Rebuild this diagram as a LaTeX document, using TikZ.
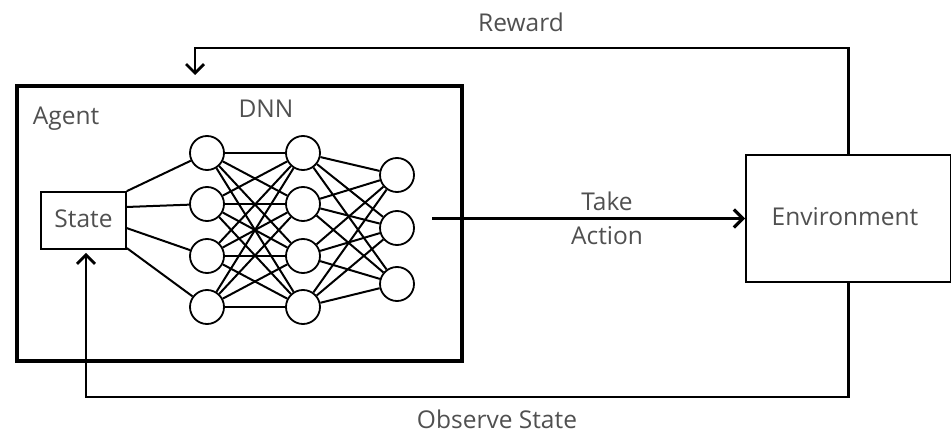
\documentclass[tikz,border=0pt]{standalone}
\usepackage{fontspec}
\setmainfont{Open Sans}
\usetikzlibrary{arrows.meta,calc}
\definecolor{txt}{HTML}{505050}
\begin{document}
\begin{tikzpicture}[x=1pt,y=-1pt,
  lbl/.style={text=txt,font=\fontsize{24.5}{28}\selectfont,inner sep=0pt},
  box/.style={draw,line width=1.8pt,inner sep=0pt},
  neuron/.style={draw,circle,line width=1.8pt,minimum size=34pt,inner sep=0pt},
  wire/.style={line width=2pt},
  flow/.style={line width=2.2pt,-{Straight Barb[length=9pt,width=18pt,line width=2.8pt]}},
  act/.style={line width=3pt,-{Straight Barb[length=9pt,width=18pt,line width=3.2pt]}}]
\useasboundingbox (0,0) rectangle (951,436);

% agent frame
\node[draw,line width=4.5pt,minimum width=445pt,minimum height=275pt,inner sep=0pt] (agent) at (239.5,223.5) {};
\node[lbl] (agentlbl) at (66,119) {Agent};
\node[lbl] (dnn) at (266,109) {DNN};

% state and environment boxes
\node[box,minimum width=85pt,minimum height=57pt] (state) at (83.5,220.5) {};
\node[lbl] (statelbl) at (83.5,219) {State};
\node[box,minimum width=205pt,minimum height=127pt] (env) at (848.5,218.5) {};
\node[lbl] (envlbl) at (845,217) {Environment};

% network layers
\foreach \i/\y in {1/153,2/204,3/256,4/307}
  \node[neuron] (a\i) at (207,\y) {};
\foreach \i/\y in {1/153,2/204,3/256,4/307}
  \node[neuron] (b\i) at (303,\y) {};
\foreach \i/\y in {1/175,2/228,3/284}
  \node[neuron] (c\i) at (397,\y) {};

\foreach \i in {1,...,4}
  \foreach \j in {1,...,4}
    \draw[wire] (a\i) -- (b\j);
\foreach \i in {1,...,4}
  \foreach \j in {1,...,3}
    \draw[wire] (b\i) -- (c\j);

% inputs from the state box
\foreach \i/\f in {1/0,2/0.27,3/0.63,4/0.97}
  \draw[wire] ($(state.north east)!\f!(state.south east)$) -- (a\i);

% action
\coordinate (actstart) at (432,218.5);
\draw[act] (actstart) -- (env.west);
\node[lbl] (take) at (607,201) {Take};
\node[lbl] (action) at (607,236) {Action};

% reward loop
\coordinate (rwdcorner) at (195,48);
\coordinate (rwdend) at (195,75);
\draw[flow] (env.north) |- (rwdcorner) -- (rwdend);
\node[lbl] (reward) at (521,22) {Reward};

% observation loop
\coordinate (obscorner) at (86,397);
\draw[flow,shorten >=3pt] (env.south) |- (obscorner) -- (obscorner |- state.south);
\node[lbl] (observe) at (497,419) {Observe State};
\end{tikzpicture}
\end{document}
